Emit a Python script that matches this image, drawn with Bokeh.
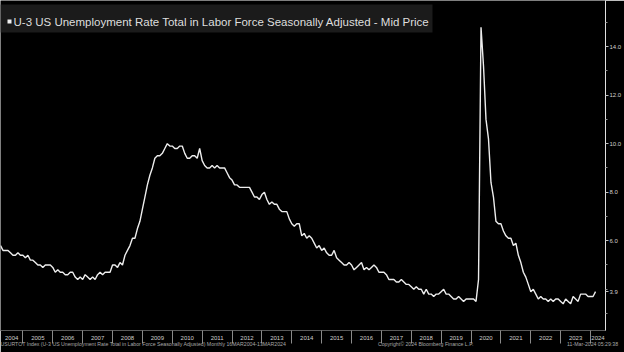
from bokeh.plotting import figure
from bokeh.models import (Range1d, FixedTicker, Label, BoxAnnotation, LinearAxis,
                          CustomJSTickFormatter, NumeralTickFormatter)
from bokeh.embed import file_html
from bokeh.resources import INLINE

# Monthly U-3 unemployment rate (%), Mar 2004 .. Feb 2024
start_year = 2004
start_month = 3
rates = [
    # 2004 Mar-Dec
    5.8, 5.6, 5.6, 5.6, 5.5, 5.4, 5.4, 5.5, 5.4, 5.4,
    # 2005
    5.3, 5.4, 5.2, 5.2, 5.1, 5.0, 5.0, 4.9, 5.0, 5.0, 5.0, 4.9,
    # 2006
    4.7, 4.8, 4.7, 4.7, 4.6, 4.6, 4.7, 4.7, 4.5, 4.4, 4.5, 4.4,
    # 2007
    4.6, 4.5, 4.4, 4.5, 4.4, 4.6, 4.7, 4.6, 4.7, 4.7, 4.7, 5.0,
    # 2008
    5.0, 4.9, 5.1, 5.0, 5.4, 5.6, 5.8, 6.1, 6.1, 6.5, 6.8, 7.3,
    # 2009
    7.8, 8.3, 8.7, 9.0, 9.4, 9.5, 9.5, 9.6, 9.8, 10.0, 9.9, 9.9,
    # 2010
    9.8, 9.8, 9.9, 9.9, 9.6, 9.4, 9.4, 9.5, 9.5, 9.4, 9.8, 9.3,
    # 2011
    9.1, 9.0, 9.0, 9.1, 9.0, 9.1, 9.0, 9.0, 9.0, 8.8, 8.6, 8.5,
    # 2012
    8.3, 8.3, 8.2, 8.2, 8.2, 8.2, 8.2, 8.0, 7.8, 7.8, 7.7, 7.9,
    # 2013
    8.0, 7.7, 7.5, 7.6, 7.5, 7.5, 7.3, 7.2, 7.2, 7.2, 6.9, 6.7,
    # 2014
    6.6, 6.7, 6.7, 6.2, 6.3, 6.1, 6.2, 6.1, 5.9, 5.7, 5.8, 5.6,
    # 2015
    5.7, 5.5, 5.4, 5.4, 5.6, 5.3, 5.2, 5.1, 5.0, 5.0, 5.1, 5.0,
    # 2016
    4.8, 4.9, 5.0, 5.1, 4.8, 4.9, 4.8, 4.9, 5.0, 4.9, 4.7, 4.7,
    # 2017
    4.7, 4.6, 4.4, 4.4, 4.4, 4.3, 4.3, 4.4, 4.3, 4.2, 4.2, 4.1,
    # 2018
    4.0, 4.1, 4.0, 4.0, 3.8, 4.0, 3.8, 3.8, 3.7, 3.8, 3.8, 3.9,
    # 2019
    4.0, 3.8, 3.8, 3.7, 3.6, 3.6, 3.7, 3.6, 3.5, 3.6, 3.6, 3.6,
    # 2020
    3.6, 3.5, 4.4, 14.8, 13.2, 11.0, 10.2, 8.4, 7.8, 6.8, 6.7, 6.7,
    # 2021
    6.4, 6.2, 6.1, 6.1, 5.8, 5.9, 5.4, 5.1, 4.7, 4.5, 4.2, 3.9,
    # 2022
    4.0, 3.8, 3.6, 3.7, 3.6, 3.6, 3.5, 3.6, 3.5, 3.6, 3.6, 3.5,
    # 2023
    3.4, 3.6, 3.5, 3.4, 3.7, 3.6, 3.5, 3.8, 3.8, 3.8, 3.7, 3.7,
    # 2024 Jan-Feb
    3.7, 3.9,
]
years = list(range(2004, 2025))
y_ticks = [6, 8, 10, 12, 14]
y_minor = [3, 4, 5, 7, 9, 11, 13, 15]
title_text = "U-3 US Unemployment Rate Total in Labor Force Seasonally Adjusted - Mid Price"
footer_texts = [
    "USURTOT Index (U-3 US Unemployment Rate Total in Labor Force Seasonally Adjusted) Monthly 16MAR2004-13MAR2024",
    "Copyright\u00a9 2024 Bloomberg Finance L.P.",
    "11-Mar-2024 05:29:38",
]
footer_px = [143, 428, 596]  # screen centres of the footer texts
last_value = rates[-1]

# month-end positions as decimal years
xs = []
for i in range(len(rates)):
    m = start_month - 1 + i
    xs.append(start_year + (m + 1) / 12.0)

FONT = "Liberation Sans"
x0, x1 = xs[0], 2024.5
W, H = 624, 352
BOTTOM = 22
RIGHT = 15
FW = W - RIGHT
FH = H - BOTTOM  # frame height (frame top at canvas top)
p = figure(width=W, height=H, x_range=Range1d(x0, x1), y_range=Range1d(2.3, 15.9),
           output_backend="svg", toolbar_location=None, y_axis_location="right",
           background_fill_color="black", border_fill_color="black",
           outline_line_color=None,
           min_border_left=0, min_border_top=0, min_border_right=RIGHT, min_border_bottom=BOTTOM)
p.xgrid.visible = False
p.ygrid.visible = False

p.line(xs, rates, line_color="#ededed", line_width=1.4)

# x axis: labels centred in the visible part of each year, separators at year boundaries
centers = [(max(y, x0) + min(y + 1, x1)) / 2.0 for y in years]
bounds = [y for y in years if x0 < y < x1]
xa = p.xaxis[0]
xa.ticker = FixedTicker(ticks=centers, minor_ticks=bounds)
xa.formatter = CustomJSTickFormatter(code="return Math.floor(tick).toString();")
xa.major_tick_out = 0
xa.major_tick_in = 0
xa.minor_tick_in = 0
xa.minor_tick_out = 13
xa.minor_tick_line_color = "#8a8a8a"
xa.axis_line_color = "#5a5a5a"
xa.major_label_text_color = "#cfcfcf"
xa.major_label_text_font_size = "6px"
xa.major_label_standoff = -8
xa.major_label_text_font = FONT

# footer line as a tickless axis below the year axis
foot_ticks = [x0 + (sx / FW) * (x1 - x0) for sx in footer_px]
foot = LinearAxis(ticker=FixedTicker(ticks=foot_ticks, minor_ticks=[]),
                  formatter=CustomJSTickFormatter(args=dict(labels=footer_texts),
                                                  code="return labels[index];"),
                  major_tick_out=0, major_tick_in=0, minor_tick_out=0, minor_tick_in=0,
                  axis_line_color=None, major_label_standoff=-2,
                  major_label_text_font=FONT, major_label_text_font_size="5.2px",
                  major_label_text_color="#a8a8a8")
p.add_layout(foot, "below")

ya = p.yaxis[0]
ya.ticker = FixedTicker(ticks=[last_value] + y_ticks, minor_ticks=y_minor)
ya.formatter = NumeralTickFormatter(format="0.0")
ya.axis_line_color = "#e0e0e0"
ya.major_tick_in = 0
ya.major_tick_out = 3
ya.minor_tick_in = 0
ya.minor_tick_out = 2
ya.major_tick_line_color = "#c0c0c0"
ya.minor_tick_line_color = "#909090"
ya.major_label_text_color = "#d0d0d0"
ya.major_label_text_font_size = "6px"
ya.major_label_standoff = 1
ya.major_label_text_font = FONT

# title box (screen y measured up from the frame bottom)
p.add_layout(BoxAnnotation(left=0, right=432, top=FH - 4, bottom=FH - 32,
                           left_units="screen", right_units="screen",
                           top_units="screen", bottom_units="screen",
                           fill_color="#1b1b1b", fill_alpha=1.0, line_color=None))
p.add_layout(BoxAnnotation(left=7, right=11, top=FH - 19, bottom=FH - 23,
                           left_units="screen", right_units="screen",
                           top_units="screen", bottom_units="screen",
                           fill_color="#f0f0f0", fill_alpha=1.0, line_color=None))
p.add_layout(Label(x=13, y=FH - 21, x_units="screen", y_units="screen",
                   text=title_text, text_font=FONT, text_font_size="11.5px",
                   text_color="#dedede", text_baseline="alphabetic", text_align="left"))

open("out.html", "w").write(file_html(p, INLINE))
